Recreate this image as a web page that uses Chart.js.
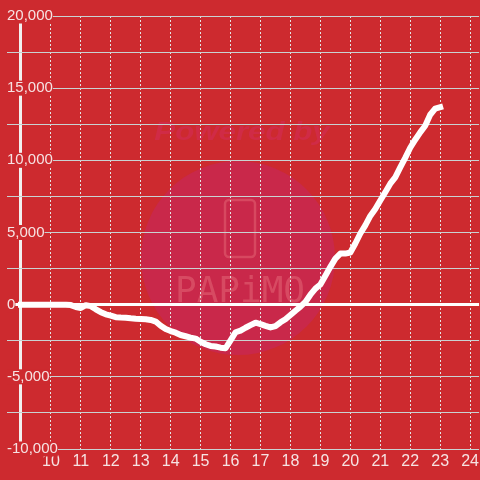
<!DOCTYPE html>
<html>
<head>
<meta charset="utf-8">
<script src="https://cdn.jsdelivr.net/npm/chart.js@4.4.1/dist/chart.umd.min.js"></script>
<style>
  html, body { margin: 0; padding: 0; background: #cd2a2f; }
</style>
</head>
<body>
<canvas id="chart" width="480" height="480"></canvas>
<script>
// --- Data (10-minute samples) ---
const times = [
  "9:00","9:10","9:20","9:30","9:40","9:50",
  "10:00","10:10","10:20","10:30","10:40","10:50",
  "11:00","11:10","11:20","11:30","11:40","11:50",
  "12:00","12:10","12:20","12:30","12:40","12:50",
  "13:00","13:10","13:20","13:30","13:40","13:50",
  "14:00","14:10","14:20","14:30","14:40","14:50",
  "15:00","15:10","15:20","15:30","15:40","15:50",
  "16:00","16:10","16:20","16:30","16:40","16:50",
  "17:00","17:10","17:20","17:30","17:40","17:50",
  "18:00","18:10","18:20","18:30","18:40","18:50",
  "19:00","19:10","19:20","19:30","19:40","19:50",
  "20:00","20:10","20:20","20:30","20:40","20:50",
  "21:00","21:10","21:20","21:30","21:40","21:50",
  "22:00","22:10","22:20","22:30","22:40","22:50",
  "23:00"
];
const values = [
  0, 0, 0, 0, 0, 0,
  0, 0, 0, 0, -30, -160,
  -230, -40, -100, -320, -520, -670,
  -760, -870, -890, -900, -940, -970,
  -990, -1010, -1060, -1170, -1460, -1690,
  -1830, -1940, -2100, -2190, -2280, -2350,
  -2570, -2740, -2860, -2900, -2980, -3020,
  -2470, -1910, -1800, -1600, -1420, -1250,
  -1350, -1470, -1580, -1480, -1220, -1010,
  -720, -420, -140, 190, 690, 1110,
  1400, 2010, 2620, 3190, 3540, 3540,
  3610, 4240, 4930, 5490, 6150, 6630,
  7220, 7790, 8380, 8820, 9510, 10170,
  10870, 11430, 11940, 12400, 13160, 13580,
  13680
];
const axisHour = 9;
const xTicks = [10, 11, 12, 13, 14, 15, 16, 17, 18, 19, 20, 21, 22, 23, 24];
const yTicks = [-10000, -7500, -5000, -2500, 0, 2500, 5000, 7500, 10000, 12500, 15000, 17500, 20000];
const yLabelTicks = [-10000, -5000, 0, 5000, 10000, 15000, 20000];

const BG = "#cd2a2f";
const LABEL = "#f6e3e3";

function toHours(t) {
  const [h, m] = t.split(":").map(Number);
  return h + m / 60;
}
const isAxis = c => c.tick && c.tick.value === axisHour;
const yMin = yTicks[0];

// faint "Powered by PAPIMO" watermark behind the grid
const watermark = {
  id: "watermark",
  beforeDraw(chart) {
    const c = chart.ctx;
    c.save();
    c.fillStyle = BG;
    c.fillRect(0, 0, chart.width, chart.height);

    c.fillStyle = "#c9284a";
    c.beginPath();
    c.arc(238, 258, 97, 0, Math.PI * 2);
    c.fill();

    c.save();
    c.translate(242, 140);
    c.scale(1.25, 1);
    c.fillStyle = "#d02b46";
    c.font = "italic bold 25px 'Liberation Sans', Arial, sans-serif";
    c.textAlign = "center";
    c.fillText("Powered by", 0, 0);
    c.restore();

    c.strokeStyle = "rgba(232,110,125,0.45)";
    c.lineWidth = 2.5;
    c.beginPath();
    c.roundRect(225, 200, 30, 57, 4);
    c.stroke();

    c.fillStyle = "rgba(232,115,128,0.45)";
    c.font = "36px 'DejaVu Sans Mono', monospace";
    c.textAlign = "center";
    c.fillText("PAPiMO", 240, 302);
    c.restore();
  }
};

const ctx = document.getElementById("chart").getContext("2d");
new Chart(ctx, {
  type: "line",
  data: {
    datasets: [{
      data: times.map((t, i) => ({ x: toHours(t), y: values[i] })),
      borderColor: "#ffffff",
      borderWidth: 6,
      pointRadius: 0,
      tension: 0,
      borderCapStyle: "square",
      borderJoinStyle: "round"
    }]
  },
  options: {
    responsive: false,
    animation: false,
    devicePixelRatio: 1,
    layout: { padding: { left: 7, top: 16, right: 0, bottom: 5 } },
    plugins: {
      legend: { display: false },
      tooltip: { enabled: false }
    },
    scales: {
      x: {
        type: "linear",
        min: axisHour - 14 / 30,
        max: 24.3,
        afterBuildTicks: s => { s.ticks = [axisHour, ...xTicks].map(v => ({ value: v })); },
        grid: {
          color: c => (isAxis(c) ? "#f2f0f0" : "#e4e4e4"),
          lineWidth: c => (isAxis(c) ? 3 : 1),
          drawTicks: false
        },
        border: { display: false, dash: c => (isAxis(c) ? [] : [2, 2]) },
        ticks: {
          color: LABEL,
          font: { size: 16, family: "'Liberation Sans', Arial, sans-serif", lineHeight: 1.5 },
          padding: 1,
          maxRotation: 0,
          autoSkip: false,
          callback: v => (v === axisHour ? "" : String(v))
        }
      },
      y: {
        min: -10000,
        max: 20000,
        afterBuildTicks: s => { s.ticks = yTicks.map(v => ({ value: v })); },
        grid: {
          color: c => (c.tick && c.tick.value === 0 ? "#ffffff" : "#c9d2d2"),
          lineWidth: c => (c.tick && c.tick.value === 0 ? 3 : 1),
          drawTicks: false
        },
        border: { display: false },
        ticks: {
          mirror: true,
          padding: 0,
          color: LABEL,
          font: { size: 15, family: "'Liberation Sans', Arial, sans-serif", lineHeight: 1 },
          autoSkip: false,
          callback: v => (yLabelTicks.includes(v) ? v.toLocaleString("en-US") : ""),
          showLabelBackdrop: true,
          backdropColor: c => (yLabelTicks.includes(c.tick.value) ? BG : "rgba(0,0,0,0)"),
          backdropPadding: c => (c.tick.value === yMin
            ? { top: 4, bottom: -2, left: 2, right: 2 }
            : { top: 1, bottom: 1, left: 2, right: 2 })
        }
      }
    }
  },
  plugins: [watermark]
});
</script>
</body>
</html>
